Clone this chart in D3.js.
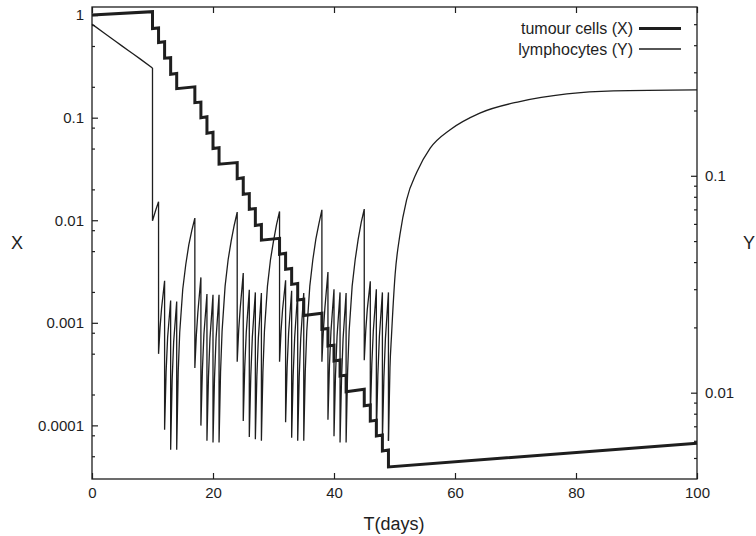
<!DOCTYPE html>
<html>
<head>
<meta charset="utf-8">
<script src="https://cdn.jsdelivr.net/npm/d3@7"></script>
<style>
  body { margin: 0; background: #fff; }
  svg { display: block; font-family: "Liberation Sans", Arial, Helvetica, sans-serif; }
</style>
</head>
<body>
<svg></svg>
<script>
// tick values + labels
let dayTicks = [0, 20, 40, 60, 80, 100];
let xTicks = [1, 0.1, 0.01, 0.001, 0.0001];
let xTickLabels = ['1', '0.1', '0.01', '0.001', '0.0001'];
let xMinorTicks = [0.8, 0.5, 0.2, 0.08, 0.05, 0.02, 0.008, 0.005, 0.002,
    0.0008, 0.0005, 0.0002, 0.00008, 0.00005];
let yTicks = [0.1, 0.01];
let yTickLabels = ['0.1', '0.01'];
let yMinorTicks = [0.5, 0.4, 0.3, 0.2, 0.09, 0.08, 0.07, 0.06, 0.05, 0.04, 0.03, 0.02,
    0.009, 0.008, 0.007, 0.006, 0.005];
let legendLabels = ['tumour cells (X)', 'lymphocytes (Y)'];

// tumour cells X (left axis), [day, value]
let tumour = [
    [0, 1.0], [10, 1.08], [10, 0.74], [11, 0.75], [11, 0.54], [12, 0.55], [12, 0.38],
    [13, 0.385], [13, 0.265], [14, 0.27], [14, 0.192],
    [17, 0.20], [17, 0.14], [18, 0.142], [18, 0.10], [19, 0.102], [19, 0.0705],
    [20, 0.072], [20, 0.050], [21, 0.051], [21, 0.0352],
    [24, 0.0365], [24, 0.0254], [25, 0.026], [25, 0.0179], [26, 0.0182], [26, 0.0128],
    [27, 0.013], [27, 0.0089], [28, 0.0091], [28, 0.0064],
    [31, 0.00667], [31, 0.00466], [32, 0.00476], [32, 0.00332], [33, 0.00338], [33, 0.00237],
    [34, 0.00242], [34, 0.00167], [35, 0.0017], [35, 0.00118],
    [38, 0.00124], [38, 0.000865], [39, 0.00088], [39, 0.000594], [40, 0.000606], [40, 0.000425],
    [41, 0.000434], [41, 0.000303], [42, 0.000309], [42, 0.000213],
    [45, 0.000225], [45, 0.000155], [46, 0.000158], [46, 0.000110], [47, 0.000112], [47, 0.0000789],
    [48, 0.0000805], [48, 0.0000563], [49, 0.0000575], [49, 0.0000393],
    [100, 0.000067]
];

// lymphocytes Y (right axis), [day, value]
let lymphBefore = [
    [0, 0.50], [2, 0.455], [4, 0.415], [6, 0.378], [8, 0.345], [10, 0.314]
];

let lymphTreatment = [
    [10, 0.314],
    // week 1
    [10, 0.062], [10.5, 0.069], [11, 0.076],
    [11, 0.0151], [11.25, 0.020], [11.5, 0.0245], [12, 0.0328],
    [12, 0.00675], [12.25, 0.0125], [12.5, 0.018], [13, 0.0266],
    [13, 0.00546], [13.25, 0.0115], [13.5, 0.0172], [14, 0.0263],
    [14, 0.00546], [14.25, 0.0125], [14.5, 0.019], [15, 0.030], [15.5, 0.039], [16, 0.048],
    [16.5, 0.056], [17, 0.0638],
    // week 2
    [17, 0.0130], [17.25, 0.0185], [17.5, 0.0235], [18, 0.034],
    [18, 0.00705], [18.25, 0.0128], [18.5, 0.0186], [19, 0.0285],
    [19, 0.0060], [19.25, 0.0118], [19.5, 0.0178], [20, 0.0283],
    [20, 0.0059], [20.25, 0.0117], [20.5, 0.0177], [21, 0.0283],
    [21, 0.0059], [21.25, 0.0125], [21.5, 0.0192], [22, 0.031], [22.5, 0.041], [23, 0.050],
    [23.5, 0.059], [24, 0.068],
    // week 3
    [24, 0.0139], [24.25, 0.0195], [24.5, 0.0245], [25, 0.0356],
    [25, 0.0074], [25.25, 0.0132], [25.5, 0.019], [26, 0.0298],
    [26, 0.00625], [26.25, 0.012], [26.5, 0.018], [27, 0.029],
    [27, 0.0061], [27.25, 0.0119], [27.5, 0.0179], [28, 0.0288],
    [28, 0.0060], [28.25, 0.0125], [28.5, 0.0192], [29, 0.031], [29.5, 0.041], [30, 0.050],
    [30.5, 0.0595], [31, 0.0685],
    // week 4
    [31, 0.0139], [31.25, 0.0193], [31.5, 0.0242], [32, 0.033],
    [32, 0.0073], [32.25, 0.0131], [32.5, 0.0189], [33, 0.0295],
    [33, 0.0062], [33.25, 0.012], [33.5, 0.018], [34, 0.029],
    [34, 0.0060], [34.25, 0.0118], [34.5, 0.0178], [35, 0.0288],
    [35, 0.0060], [35.25, 0.0125], [35.5, 0.0192], [36, 0.031], [36.5, 0.041], [37, 0.051],
    [37.5, 0.060], [38, 0.0697],
    // week 5
    [38, 0.0139], [38.25, 0.0195], [38.5, 0.0247], [39, 0.036],
    [39, 0.0075], [39.25, 0.0134], [39.5, 0.0192], [40, 0.030],
    [40, 0.0063], [40.25, 0.0121], [40.5, 0.0181], [41, 0.029],
    [41, 0.0059], [41.25, 0.0117], [41.5, 0.0177], [42, 0.0288],
    [42, 0.0059], [42.25, 0.0125], [42.5, 0.0192], [43, 0.031], [43.5, 0.041], [44, 0.051],
    [44.5, 0.061], [45, 0.0702],
    // week 6
    [45, 0.0141], [45.25, 0.0194], [45.5, 0.0242], [46, 0.0326],
    [46, 0.00765], [46.25, 0.0135], [46.5, 0.0193], [47, 0.030],
    [47, 0.0063], [47.25, 0.0121], [47.5, 0.0181], [48, 0.029],
    [48, 0.0060], [48.25, 0.0118], [48.5, 0.0178], [49, 0.029],
    [49, 0.0060]
];

let lymphRecovery = [
    [49, 0.0060], [49.25, 0.013], [49.5, 0.0182], [50.1, 0.035], [50.9, 0.0535], [52, 0.0775],
    [53.7, 0.104], [55.9, 0.134], [59.2, 0.163], [64.1, 0.1945], [70.7, 0.22], [78.5, 0.2387],
    [86.2, 0.2465], [100, 0.249]
];

let width = 756;
let height = 536;
let plotLeft = 92, plotRight = 697, plotTop = 7, plotBottom = 479;
let ink = '#1e1e1e';

let svg = d3.select('svg').attr('width', width).attr('height', height);

let xScale = d3.scaleLinear().domain([0, 100]).range([plotLeft, plotRight]);
let yLeft = d3.scaleLog().domain([3e-5, 1.2]).range([plotBottom, plotTop]);
let yRight = d3.scaleLog().domain([0.004, 0.6]).range([plotBottom, plotTop]);

let noDomain = (g) => g.select('.domain').remove();

let drawAxes = () => {
    // bottom ticks + labels
    svg.append('g')
        .attr('transform', 'translate(0,' + plotBottom + ')')
        .call(d3.axisBottom(xScale).tickValues(dayTicks).tickSize(-6).tickSizeOuter(0)
            .tickPadding(8).tickFormat(d3.format('d')))
        .call(noDomain);

    // mirrored top ticks
    svg.append('g')
        .attr('transform', 'translate(0,' + plotTop + ')')
        .call(d3.axisTop(xScale).tickValues(dayTicks).tickSize(-6).tickSizeOuter(0).tickFormat(''))
        .call(noDomain);

    // left log axis
    svg.append('g')
        .attr('transform', 'translate(' + plotLeft + ',0)')
        .call(d3.axisLeft(yLeft).tickValues(xTicks).tickSize(-6).tickSizeOuter(0).tickPadding(8)
            .tickFormat((d, i) => xTickLabels[i]))
        .call(noDomain);
    svg.append('g')
        .attr('transform', 'translate(' + plotLeft + ',0)')
        .call(d3.axisLeft(yLeft).tickValues(xMinorTicks).tickSize(-3).tickSizeOuter(0).tickFormat(''))
        .call(noDomain);

    // right log axis
    svg.append('g')
        .attr('transform', 'translate(' + plotRight + ',0)')
        .call(d3.axisRight(yRight).tickValues(yTicks).tickSize(-6).tickSizeOuter(0).tickPadding(8)
            .tickFormat((d, i) => yTickLabels[i]))
        .call(noDomain);
    svg.append('g')
        .attr('transform', 'translate(' + plotRight + ',0)')
        .call(d3.axisRight(yRight).tickValues(yMinorTicks).tickSize(-3).tickSizeOuter(0).tickFormat(''))
        .call(noDomain);

    svg.selectAll('.tick line').attr('stroke', ink).attr('stroke-width', 1.2);
    svg.selectAll('.tick text')
        .attr('fill', ink)
        .style('font-size', '15px')
        .style('font-family', '"Liberation Sans", Arial, sans-serif');

    svg.append('rect')
        .attr('x', plotLeft)
        .attr('y', plotTop)
        .attr('width', plotRight - plotLeft)
        .attr('height', plotBottom - plotTop)
        .attr('fill', 'none')
        .attr('stroke', ink)
        .attr('stroke-width', 1.3);

    // axis titles
    svg.append('text').attr('x', 394).attr('y', 530).attr('text-anchor', 'middle')
        .style('font-size', '18px').attr('fill', ink).text('T(days)');
    svg.append('text').attr('x', 17).attr('y', 249).attr('text-anchor', 'middle')
        .style('font-size', '18px').attr('fill', ink).text('X');
    svg.append('text').attr('x', 743).attr('y', 249)
        .style('font-size', '18px').attr('fill', ink).text('Y');
}

let drawLines = () => {
    let lineX = d3.line().x((d) => xScale(d[0])).y((d) => yLeft(d[1]));
    let lineY = d3.line().x((d) => xScale(d[0])).y((d) => yRight(d[1]));
    let smoothY = d3.line().x((d) => xScale(d[0])).y((d) => yRight(d[1])).curve(d3.curveMonotoneX);

    [[lymphBefore, smoothY], [lymphTreatment, lineY], [lymphRecovery, smoothY]].forEach((part) => {
        svg.append('path')
            .datum(part[0])
            .attr('d', part[1])
            .attr('fill', 'none')
            .attr('stroke', ink)
            .attr('stroke-width', 1.3)
            .attr('stroke-linejoin', 'miter');
    });

    svg.append('path')
        .datum(tumour)
        .attr('d', lineX)
        .attr('fill', 'none')
        .attr('stroke', ink)
        .attr('stroke-width', 3)
        .attr('stroke-linejoin', 'miter');
}

let drawLegend = () => {
    let widths = [3, 1.3];
    let legend = svg.append('g');
    legendLabels.forEach((label, i) => {
        legend.append('text')
            .attr('x', 633)
            .attr('y', 34 + i * 20.5)
            .attr('text-anchor', 'end')
            .style('font-size', '16px')
            .attr('fill', ink)
            .text(label);
        legend.append('line')
            .attr('x1', 639)
            .attr('x2', 681)
            .attr('y1', 28.5 + i * 20.5)
            .attr('y2', 28.5 + i * 20.5)
            .attr('stroke', ink)
            .attr('stroke-width', widths[i]);
    });
}

drawAxes();
drawLines();
drawLegend();
</script>
</body>
</html>
